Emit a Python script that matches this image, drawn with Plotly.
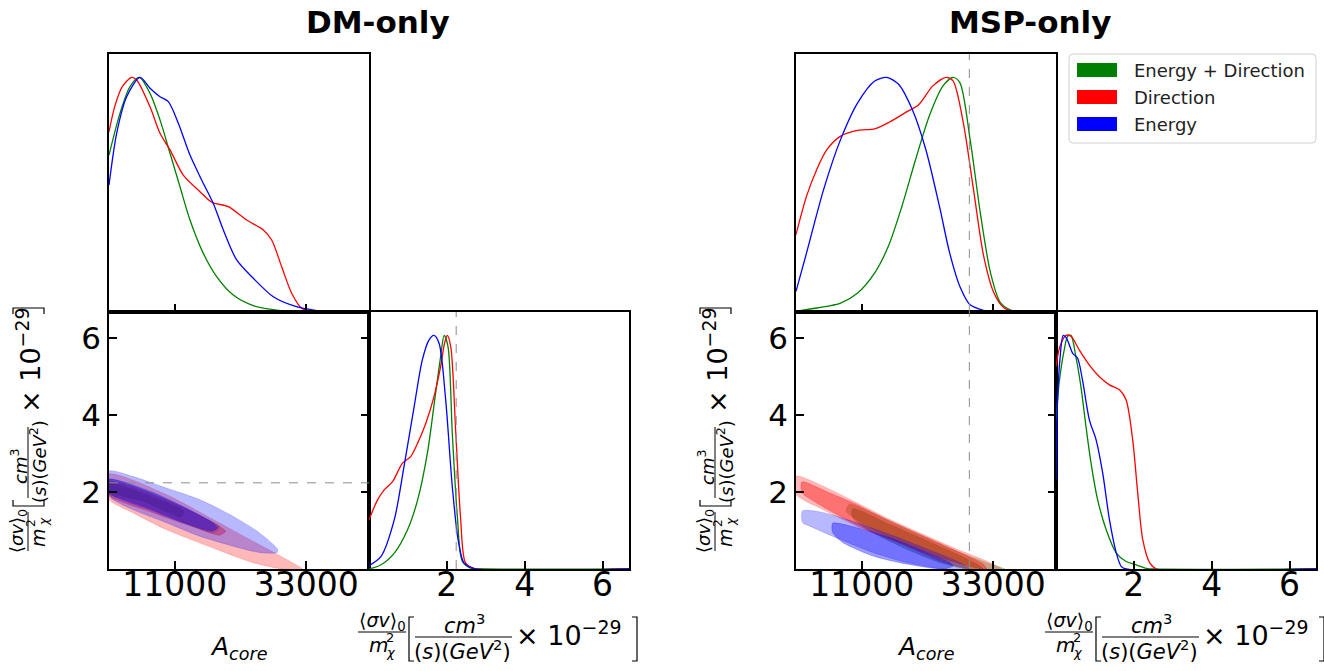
import plotly.graph_objects as go

W, H = 1324, 671

# ---------------- data ----------------
A_RANGE = [0, 43500]
SV_RANGE = [0, 6.68]
PDF_RANGE = [0, 1.1]
A_TICKS = [11000, 33000]
A_TICK_TEXT = ["11000", "33000"]
SV_TICKS = [2, 4, 6]
SV_TICK_TEXT = ["2", "4", "6"]

SERIES = ["Energy + Direction", "Direction", "Energy"]
LINE_COLORS = ["#008000", "#ff0000", "#0000ff"]
RGB = ["0,128,0", "255,0,0", "0,0,255"]
PANEL_TITLES = ["DM-only", "MSP-only"]

DM_TRUE_SIGMAV = 2.24
MSP_TRUE_ACORE = 29000

# DM-only: marginal of A_core (normalised to peak)
DM_A_ED_X = [0, 1840, 3513, 5075, 6860, 8532, 10205, 11878, 13551, 15780, 18010, 20800, 24140, 28600, 33000, 43500]
DM_A_ED_Y = [0.669, 0.847, 0.961, 1.0, 0.932, 0.819, 0.677, 0.534, 0.392, 0.25, 0.151, 0.072, 0.027, 0.006, 0.0, 0.0]
DM_A_DIR_X = [0, 1000, 2200, 3800, 4630, 6860, 8532, 10205, 12430, 15224, 17180, 19960, 23030, 25820, 27220, 28890, 30560, 32240, 34200, 43500]
DM_A_DIR_Y = [0.769, 0.88, 0.96, 1.0, 0.989, 0.875, 0.762, 0.691, 0.584, 0.513, 0.468, 0.449, 0.392, 0.35, 0.307, 0.193, 0.08, 0.016, 0.002, 0.0]
DM_A_E_X = [0, 1282, 2956, 5187, 6860, 8532, 9924, 11600, 13551, 15500, 17450, 19130, 21360, 24140, 27490, 30840, 34740, 38000, 43500]
DM_A_E_Y = [0.541, 0.762, 0.918, 1.0, 0.954, 0.918, 0.897, 0.805, 0.669, 0.563, 0.463, 0.35, 0.222, 0.144, 0.065, 0.027, 0.006, 0.0, 0.0]

# DM-only: marginal of <sigma v>
DM_S_ED_X = [0.0, 0.31, 0.65, 0.99, 1.25, 1.50, 1.71, 1.84, 1.93, 2.03, 2.14, 2.27, 2.40, 2.62, 3.0, 6.68]
DM_S_ED_Y = [0.0, 0.018, 0.068, 0.168, 0.296, 0.496, 0.752, 0.909, 1.0, 0.952, 0.581, 0.225, 0.032, 0.003, 0.0, 0.0]
DM_S_DIR_X = [0.0, 0.22, 0.39, 0.61, 0.86, 1.07, 1.25, 1.46, 1.67, 1.84, 1.94, 2.01, 2.10, 2.23, 2.35, 2.48, 2.69, 6.68]
DM_S_DIR_Y = [0.211, 0.296, 0.339, 0.375, 0.453, 0.481, 0.539, 0.624, 0.738, 0.866, 0.966, 1.0, 0.952, 0.581, 0.225, 0.026, 0.003, 0.0]
DM_S_E_X = [0.0, 0.31, 0.65, 0.90, 1.16, 1.37, 1.54, 1.67, 1.80, 1.97, 2.14, 2.29, 2.44, 2.69, 6.68]
DM_S_E_Y = [0.014, 0.054, 0.211, 0.439, 0.695, 0.895, 0.98, 1.0, 0.966, 0.724, 0.353, 0.125, 0.026, 0.003, 0.0]

# MSP-only: marginal of A_core
MSP_A_ED_X = [0, 3477, 7467, 10317, 13167, 15447, 17727, 20007, 22287, 24567, 26277, 27417, 29127, 30837, 32547, 34257, 36537, 43500]
MSP_A_ED_Y = [0.003, 0.017, 0.038, 0.081, 0.167, 0.28, 0.451, 0.65, 0.835, 0.963, 1.0, 0.978, 0.736, 0.423, 0.167, 0.038, 0.003, 0.0]
MSP_A_DIR_X = [0, 1767, 3477, 5187, 7467, 10317, 13167, 15447, 18297, 20577, 22857, 25137, 26277, 27987, 29697, 31407, 33117, 34827, 37107, 43500]
MSP_A_DIR_Y = [0.33, 0.494, 0.608, 0.693, 0.75, 0.774, 0.781, 0.807, 0.85, 0.885, 0.963, 1.0, 0.985, 0.807, 0.522, 0.237, 0.081, 0.017, 0.0, 0.0]
MSP_A_E_X = [0, 1767, 4617, 7467, 10317, 13167, 15162, 17157, 19437, 21717, 23997, 25707, 27417, 29127, 31407, 33117, 43500]
MSP_A_E_Y = [0.088, 0.252, 0.522, 0.736, 0.892, 0.985, 1.0, 0.971, 0.864, 0.693, 0.451, 0.252, 0.109, 0.031, 0.007, 0.0, 0.0]

# MSP-only: marginal of <sigma v>
MSP_S_ED_X = [0.0, 0.08, 0.21, 0.30, 0.385, 0.51, 0.64, 0.77, 0.90, 1.07, 1.29, 1.55, 1.80, 2.06, 2.32, 2.5, 6.68]
MSP_S_ED_Y = [0.63, 0.795, 0.937, 0.996, 1.0, 0.909, 0.781, 0.61, 0.453, 0.296, 0.168, 0.068, 0.032, 0.018, 0.003, 0.0, 0.0]
MSP_S_DIR_X = [0.0, 0.10, 0.255, 0.385, 0.6, 0.857, 1.115, 1.373, 1.631, 1.80, 1.97, 2.10, 2.23, 2.41, 2.58, 6.68]
MSP_S_DIR_Y = [0.866, 0.952, 1.0, 0.996, 0.937, 0.873, 0.823, 0.788, 0.767, 0.724, 0.553, 0.325, 0.125, 0.026, 0.0, 0.0]
MSP_S_E_X = [0.0, 0.04, 0.10, 0.186, 0.27, 0.43, 0.555, 0.68, 0.857, 1.03, 1.2, 1.373, 1.55, 1.675, 1.8, 6.68]
MSP_S_E_Y = [0.382, 0.724, 0.895, 1.0, 0.988, 0.923, 0.902, 0.809, 0.638, 0.553, 0.41, 0.211, 0.068, 0.011, 0.0, 0.0]

# 2D credible regions (A_core, <sigma v>), outer = 95 %, inner = 68 %
DM_ED_OUT_A = [0, 8000, 14000, 18500, 17500, 10000, 3000, 0]
DM_ED_OUT_S = [2.32, 1.92, 1.48, 1.10, 0.95, 1.38, 1.80, 1.95]
DM_ED_IN_A = [0, 7000, 12500, 12000, 6000, 0]
DM_ED_IN_S = [2.22, 1.88, 1.50, 1.36, 1.75, 2.02]
DM_DIR_OUT_A = [0, 9480, 17850, 23980, 29560, 32340, 29000, 23980, 17850, 9480, 3903, 0]
DM_DIR_OUT_S = [2.46, 1.94, 1.25, 0.73, 0.26, 0.0, 0.0, 0.17, 0.52, 1.03, 1.47, 1.81]
DM_DIR_IN_A = [0, 9480, 16500, 19500, 18500, 14000, 6692, 0]
DM_DIR_IN_S = [2.27, 1.80, 1.28, 0.98, 0.88, 1.10, 1.50, 1.92]
DM_E_OUT_A = [0, 3903, 9480, 15057, 20630, 25095, 28160, 28160, 25095, 20630, 15057, 9480, 3903, 0]
DM_E_OUT_S = [2.54, 2.41, 2.11, 1.81, 1.38, 0.95, 0.52, 0.43, 0.43, 0.60, 0.86, 1.21, 1.55, 1.90]
DM_E_IN_A = [0, 6692, 12270, 17290, 18125, 17290, 12270, 6692, 0]
DM_E_IN_S = [2.33, 2.03, 1.64, 1.21, 1.08, 0.99, 1.21, 1.55, 1.98]

MSP_ED_OUT_A = [8930, 15650, 21240, 26850, 32440, 34960, 31310, 26850, 21240, 15650, 10057, 8380]
MSP_ED_OUT_S = [1.68, 1.25, 0.86, 0.47, 0.13, 0.0, 0.0, 0.17, 0.47, 0.82, 1.29, 1.51]
MSP_ED_IN_A = [9490, 15650, 21240, 26850, 30760, 31310, 28530, 24040, 18450, 12850, 9490]
MSP_ED_IN_S = [1.57, 1.16, 0.78, 0.39, 0.08, 0.0, 0.0, 0.17, 0.52, 0.95, 1.34]
MSP_DIR_OUT_A = [0, 4450, 10057, 15650, 21240, 26850, 32440, 34400, 30760, 26850, 21240, 15650, 10057, 4450, 0]
MSP_DIR_OUT_S = [2.41, 2.16, 1.73, 1.29, 0.90, 0.52, 0.17, 0.0, 0.0, 0.17, 0.43, 0.78, 1.12, 1.55, 1.94]
MSP_DIR_IN_A = [1000, 5570, 10057, 15650, 21240, 26850, 31310, 31880, 29080, 24040, 18450, 12850, 7250, 3340, 1000]
MSP_DIR_IN_S = [2.26, 1.98, 1.68, 1.25, 0.86, 0.47, 0.13, 0.0, 0.0, 0.21, 0.60, 0.95, 1.38, 1.73, 1.98]
MSP_E_OUT_A = [1090, 4450, 10057, 15650, 21240, 26850, 29080, 24600, 18450, 12850, 7250, 2220, 1090]
MSP_E_OUT_S = [1.51, 1.47, 1.21, 0.90, 0.56, 0.21, 0.0, 0.0, 0.17, 0.43, 0.78, 1.12, 1.21]
MSP_E_IN_A = [6130, 10057, 15650, 21240, 25720, 26280, 24600, 18450, 12850, 7810, 6130]
MSP_E_IN_S = [1.19, 1.08, 0.82, 0.47, 0.17, 0.08, 0.0, 0.13, 0.34, 0.69, 0.95]

CORNERS = [
    dict(
        a1d=[(DM_A_ED_X, DM_A_ED_Y), (DM_A_DIR_X, DM_A_DIR_Y), (DM_A_E_X, DM_A_E_Y)],
        s1d=[(DM_S_ED_X, DM_S_ED_Y), (DM_S_DIR_X, DM_S_DIR_Y), (DM_S_E_X, DM_S_E_Y)],
        c2d=[((DM_ED_OUT_A, DM_ED_OUT_S), (DM_ED_IN_A, DM_ED_IN_S)),
             ((DM_DIR_OUT_A, DM_DIR_OUT_S), (DM_DIR_IN_A, DM_DIR_IN_S)),
             ((DM_E_OUT_A, DM_E_OUT_S), (DM_E_IN_A, DM_E_IN_S))],
    ),
    dict(
        a1d=[(MSP_A_ED_X, MSP_A_ED_Y), (MSP_A_DIR_X, MSP_A_DIR_Y), (MSP_A_E_X, MSP_A_E_Y)],
        s1d=[(MSP_S_ED_X, MSP_S_ED_Y), (MSP_S_DIR_X, MSP_S_DIR_Y), (MSP_S_E_X, MSP_S_E_Y)],
        c2d=[((MSP_ED_OUT_A, MSP_ED_OUT_S), (MSP_ED_IN_A, MSP_ED_IN_S)),
             ((MSP_DIR_OUT_A, MSP_DIR_OUT_S), (MSP_DIR_IN_A, MSP_DIR_IN_S)),
             ((MSP_E_OUT_A, MSP_E_OUT_S), (MSP_E_IN_A, MSP_E_IN_S))],
    ),
]

# ---------------- layout helpers ----------------
FONT = "DejaVu Sans"
CORNER_DX = [0, 687]
TITLE_X = [378, 1030]
LEFT0 = 109
PW = 260
TOP0, MID, BOT = 54, 312, 569


def X(px):
    return px / W


def Y(py):
    return 1 - py / H


def xdom(p0, p1):
    return [X(p0), X(p1)]


def ydom(p0, p1):
    return [Y(p1), Y(p0)]


base_axis = dict(showline=True, linecolor="black", linewidth=1.6, mirror=True,
                 showgrid=False, zeroline=False, ticks="inside", ticklen=8,
                 tickwidth=1.5, tickcolor="black",
                 tickfont=dict(family=FONT, size=33, color="black"))

fig = go.Figure()
layout = dict(width=W, height=H, autosize=False,
              margin=dict(l=0, r=0, t=0, b=0),
              paper_bgcolor="white", plot_bgcolor="white",
              showlegend=False)

shapes = []
annotations = []


def txt(t, px, py, fs, angle=0, xanchor="center"):
    annotations.append(dict(text=t, x=X(px), y=Y(py), textangle=angle, xanchor=xanchor,
                            font=dict(family=FONT, size=fs, color="black")))


def poly(pts, width=1.2):
    path = "M " + " L ".join(f"{X(px):.5f},{Y(py):.5f}" for px, py in pts)
    shapes.append(dict(type="path", xref="paper", yref="paper", path=path,
                       line=dict(color="black", width=width)))


for c, corner in enumerate(CORNERS):
    dx = CORNER_DX[c]
    i_top, i_2d, i_side = 3 * c + 1, 3 * c + 2, 3 * c + 3
    x0 = LEFT0 + dx
    # axes
    layout[f"xaxis{i_top}"] = dict(base_axis, domain=xdom(x0, x0 + PW), range=A_RANGE,
                                   tickvals=A_TICKS, showticklabels=False, anchor=f"y{i_top}")
    layout[f"yaxis{i_top}"] = dict(base_axis, domain=ydom(TOP0, MID), range=PDF_RANGE,
                                   ticks="", showticklabels=False, anchor=f"x{i_top}")
    layout[f"xaxis{i_2d}"] = dict(base_axis, domain=xdom(x0, x0 + PW), range=A_RANGE,
                                  tickvals=A_TICKS, ticktext=A_TICK_TEXT, ticklabelstandoff=-14,
                                  anchor=f"y{i_2d}")
    layout[f"yaxis{i_2d}"] = dict(base_axis, domain=ydom(MID, BOT), range=SV_RANGE,
                                  tickvals=SV_TICKS, ticktext=SV_TICK_TEXT, mirror="ticks",
                                  tickfont=dict(family=FONT, size=31, color="black"),
                                  anchor=f"x{i_2d}")
    layout[f"xaxis{i_side}"] = dict(base_axis, domain=xdom(x0 + PW, x0 + 2 * PW), range=SV_RANGE,
                                    tickvals=SV_TICKS, ticktext=SV_TICK_TEXT, ticklabelstandoff=-14,
                                    anchor=f"y{i_side}")
    layout[f"yaxis{i_side}"] = dict(base_axis, domain=ydom(MID, BOT), range=PDF_RANGE,
                                    ticks="", showticklabels=False, anchor=f"x{i_side}")

    # 2D regions
    for k in range(3):
        (oa, os_), (ia, is_) = corner["c2d"][k]
        for (aa, ss), alpha in (((oa, os_), 0.28), ((ia, is_), 0.38)):
            fig.add_trace(go.Scatter(
                x=list(aa) + [aa[0]], y=list(ss) + [ss[0]], mode="lines", fill="toself",
                fillcolor=f"rgba({RGB[k]},{alpha})",
                line=dict(color=f"rgba({RGB[k]},{alpha})", width=0.6, shape="spline", smoothing=0.7),
                xaxis=f"x{i_2d}", yaxis=f"y{i_2d}", hoverinfo="skip", name=SERIES[k]))
    # 1D marginals
    for k in range(3):
        ax_, ay_ = corner["a1d"][k]
        fig.add_trace(go.Scatter(x=ax_, y=ay_, mode="lines", name=SERIES[k],
                                 line=dict(color=LINE_COLORS[k], width=1.3, shape="spline", smoothing=0.8),
                                 xaxis=f"x{i_top}", yaxis=f"y{i_top}"))
        sx_, sy_ = corner["s1d"][k]
        fig.add_trace(go.Scatter(x=sx_, y=sy_, mode="lines", name=SERIES[k],
                                 line=dict(color=LINE_COLORS[k], width=1.3, shape="spline", smoothing=0.8),
                                 xaxis=f"x{i_side}", yaxis=f"y{i_side}"))

    # title
    annotations.append(dict(text=f"<b>{PANEL_TITLES[c]}</b>", x=X(TITLE_X[c]), y=Y(22),
                            font=dict(family=FONT, size=31, color="black")))

    # A_core label
    txt("<i>A</i><sub><i>core</i></sub>", 238 + dx, 648, 25)

    # ---- rotated y label (fraction style) ----
    txt("⟨<i>σv</i>⟩<sub>0</sub>", 18 + dx, 531, 18, -90)
    txt("<i>m</i>", 38 + dx, 538, 19, -90)
    txt("2", 31 + dx, 523, 12, -90)
    txt("<i>χ</i>", 44 + dx, 522, 12, -90)
    txt("<i>cm</i><sup>3</sup>", 19 + dx, 467, 18, -90)
    txt("(<i>s</i>)(<i>GeV</i><sup>2</sup>)", 38 + dx, 462, 18, -90)
    txt("× 10<sup>−29</sup>", 28 + dx, 361, 27, -90)
    for (py0, py1) in ((512, 551), (427, 498)):
        shapes.append(dict(type="line", xref="paper", yref="paper", x0=X(28 + dx), x1=X(28 + dx),
                           y0=Y(py0), y1=Y(py1), line=dict(color="black", width=1)))
    poly([(13 + dx, 500), (13 + dx, 506), (44 + dx, 506), (44 + dx, 500)])
    poly([(13 + dx, 314), (13 + dx, 308), (44 + dx, 308), (44 + dx, 314)])

    # ---- horizontal x label for <sigma v> ----
    txt("⟨<i>σv</i>⟩<sub>0</sub>", 382 + dx, 621, 19)
    txt("<i>m</i>", 378 + dx, 645, 20)
    txt("2", 390 + dx, 637, 13)
    txt("<i>χ</i>", 391 + dx, 652, 13)
    txt("<i>cm</i><sup>3</sup>", 464 + dx, 624, 21)
    txt("(<i>s</i>)(<i>GeV</i><sup>2</sup>)", 462 + dx, 650, 21)
    txt("× 10<sup>−29</sup>", 568 + dx, 633, 27)
    for (px0, px1, py) in ((358, 406, 632), (415, 512, 637)):
        shapes.append(dict(type="line", xref="paper", yref="paper", x0=X(px0 + dx), x1=X(px1 + dx),
                           y0=Y(py), y1=Y(py), line=dict(color="black", width=1)))
    poly([(414 + dx, 617), (409 + dx, 617), (409 + dx, 661), (414 + dx, 661)])
    poly([(632 + dx, 617), (637 + dx, 617), (637 + dx, 661), (632 + dx, 661)])

# truth lines
dash = dict(color="#8c8c8c", width=1, dash="dash")
shapes.append(dict(type="line", xref="x2 domain", yref="y2", x0=0, x1=1,
                   y0=DM_TRUE_SIGMAV, y1=DM_TRUE_SIGMAV, line=dash))
shapes.append(dict(type="line", xref="x3", yref="y3 domain", x0=DM_TRUE_SIGMAV, x1=DM_TRUE_SIGMAV,
                   y0=0, y1=1, line=dash))
shapes.append(dict(type="line", xref="x4", yref="y4 domain", x0=MSP_TRUE_ACORE, x1=MSP_TRUE_ACORE,
                   y0=0, y1=1, line=dash))
shapes.append(dict(type="line", xref="x5", yref="y5 domain", x0=MSP_TRUE_ACORE, x1=MSP_TRUE_ACORE,
                   y0=0, y1=1, line=dash))

# legend (drawn manually to match matplotlib patches) with rounded frame
lx0, lx1, ly0, ly1, r = 1069, 1316, 54, 143, 4
rx, ry = r / W, r / H
fx0, fx1, fy0, fy1 = X(lx0), X(lx1), Y(ly1), Y(ly0)
frame = (f"M {fx0 + rx},{fy0} L {fx1 - rx},{fy0} Q {fx1},{fy0} {fx1},{fy0 + ry} "
         f"L {fx1},{fy1 - ry} Q {fx1},{fy1} {fx1 - rx},{fy1} L {fx0 + rx},{fy1} "
         f"Q {fx0},{fy1} {fx0},{fy1 - ry} L {fx0},{fy0 + ry} Q {fx0},{fy0} {fx0 + rx},{fy0} Z")
shapes.append(dict(type="path", xref="paper", yref="paper", path=frame,
                   line=dict(color="#d0d0d0", width=1), fillcolor="white"))
for k, name in enumerate(SERIES):
    cy = 70 + 27 * k
    shapes.append(dict(type="rect", xref="paper", yref="paper", x0=X(1077), x1=X(1117),
                       y0=Y(cy + 7), y1=Y(cy - 7), line=dict(width=0), fillcolor=LINE_COLORS[k]))
    annotations.append(dict(text=name, x=X(1132), y=Y(cy), xanchor="left",
                            font=dict(family=FONT, size=18, color="#222222")))

for a in annotations:
    a.setdefault("xref", "paper")
    a.setdefault("yref", "paper")
    a.setdefault("showarrow", False)
    a.setdefault("xanchor", "center")
    a.setdefault("yanchor", "middle")

layout["shapes"] = shapes
layout["annotations"] = annotations
fig.update_layout(**layout)
fig.write_html("out.html")
